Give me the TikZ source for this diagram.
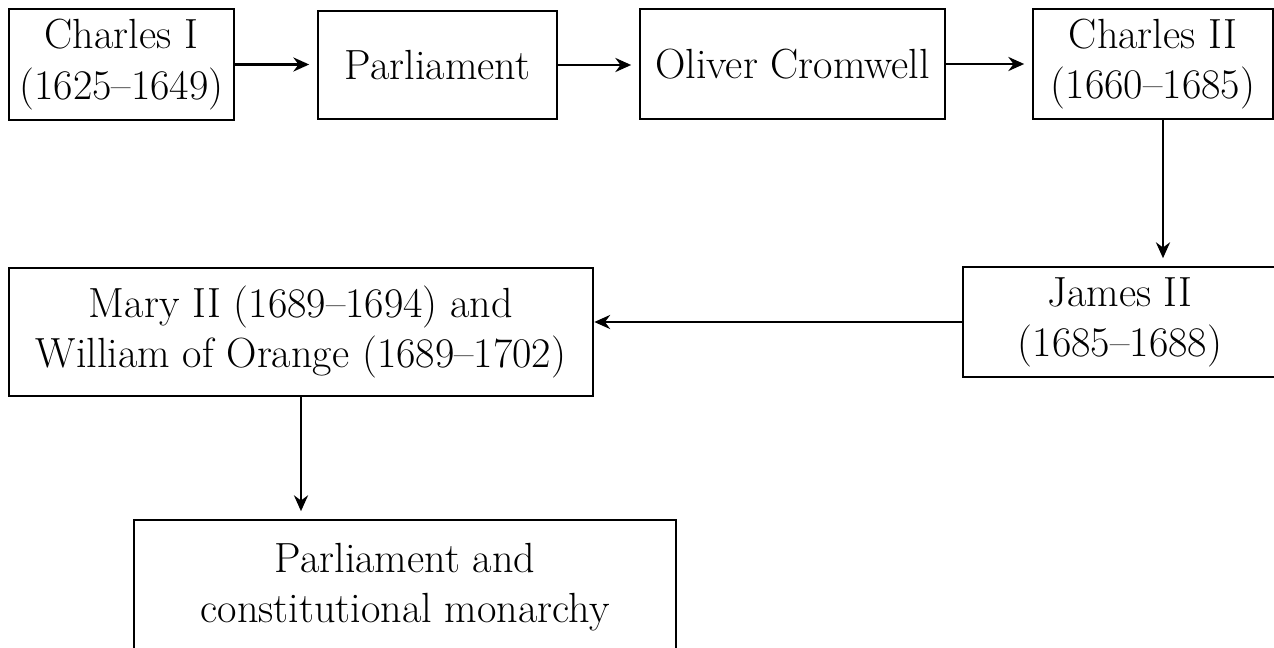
\documentclass[tikz,border=0pt]{standalone}
\usetikzlibrary{arrows.meta}
\tikzset{
  box/.style={draw, line width=1.5pt, align=center, inner sep=0pt,
    font=\fontsize{24}{28.5}\selectfont},
  link/.style={-{Stealth[length=9pt,width=8pt]}, line width=1.4pt, shorten >=0.15cm}
}
\begin{document}
\begin{tikzpicture}
            \useasboundingbox (0,0) rectangle (25.48,-12.96);
            \node[box, minimum width=4.5cm, minimum height=2.22cm] (charlesI) at (2.43,-1.29) {Charles I\\(1625--1649)};
            \node[box, minimum width=4.78cm, minimum height=2.16cm] (parl) at (8.75,-1.30) {Parliament};
            \node[box, minimum width=6.1cm, minimum height=2.2cm] (cromwell) at (15.85,-1.28) {Oliver Cromwell};
            \node[box, minimum width=4.8cm, minimum height=2.2cm] (charlesII) at (23.06,-1.28) {Charles II\\(1660--1685)};
            \node[box, minimum width=6.28cm, minimum height=2.2cm] (james) at (22.4,-6.44) {James II\\(1685--1688)};
            \node[box, minimum width=11.68cm, minimum height=2.56cm] (mary) at (6.02,-6.64) {Mary II (1689--1694) and\\William of Orange (1689--1702)};
            \node[box, minimum width=10.84cm, minimum height=2.7cm] (const) at (8.1,-11.75) {Parliament and\\constitutional monarchy};
            \draw[link] (charlesI.east) -- (charlesI.east -| parl.west);
            \draw[link] (parl.east) -- (parl.east -| cromwell.west);
            \draw[link] (cromwell.east) -- (cromwell.east -| charlesII.west);
            \draw[link] ([xshift=2mm]charlesII.south) -- ([xshift=2mm]charlesII.south |- james.north);
            \draw[link, shorten >=0pt] (james.west) -- (james.west -| mary.east);
            \draw[link] (mary.south) -- (mary.south |- const.north);
        \end{tikzpicture}
\end{document}
